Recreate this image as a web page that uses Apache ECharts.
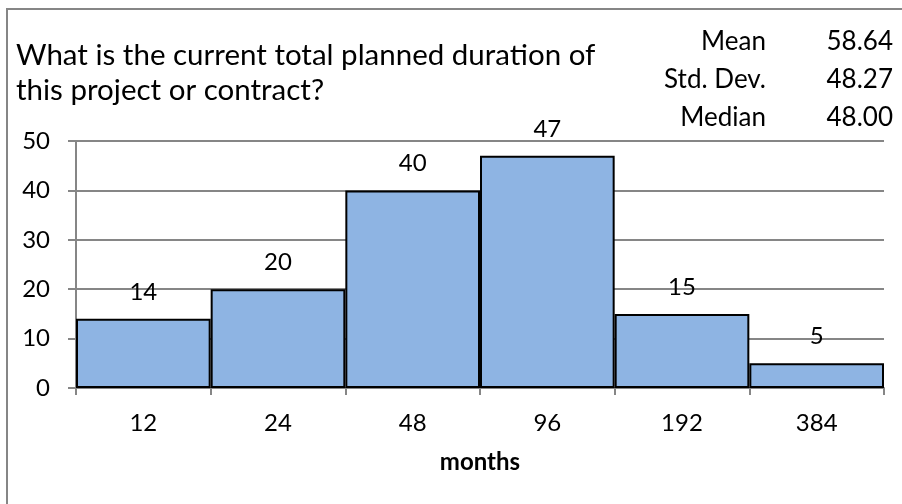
<!DOCTYPE html>
<html>
<head>
<meta charset="utf-8">
<script src="https://cdn.jsdelivr.net/npm/echarts@6/dist/echarts.min.js"></script>
<style>
  * { padding: 0; margin: 0; }
  html, body { background: #fff; }
  #chart { width: 902px; height: 504px; }
</style>
</head>
<body>
<div id="chart"></div>
<script>
const bins = ['12', '24', '48', '96', '192', '384']
const counts = [14, 20, 40, 47, 15, 5]
const statNames = ['Mean', 'Std. Dev.', 'Median']
const statValues = ['58.64', '48.27', '48.00']

const font = 'Lato, "Open Sans", sans-serif'
const gray = '#868686'

const chart = echarts.init(document.getElementById('chart'))
chart.setOption({
  animation: false,
  backgroundColor: '#fff',
  textStyle: { fontFamily: font },
  title: {
    text: 'What is the current total planned duration of\nthis project or contract?',
    left: 11,
    top: 33,
    textStyle: {
      fontFamily: font,
      fontSize: 29.5,
      fontWeight: 'normal',
      color: '#000',
      lineHeight: 35
    }
  },
  graphic: [
    {
      // chart frame
      type: 'rect',
      shape: { x: 7, y: 9, width: 1000, height: 1000 },
      style: { fill: 'none', stroke: gray, lineWidth: 2 },
      silent: true
    },
    {
      type: 'text',
      x: 766,
      y: 23,
      style: {
        text: statNames.join('\n'),
        align: 'right',
        font: '26px ' + font,
        lineHeight: 38,
        fill: '#000'
      }
    },
    {
      type: 'text',
      x: 893,
      y: 23,
      style: {
        text: statValues.join('\n'),
        align: 'right',
        font: '26px ' + font,
        lineHeight: 38,
        fill: '#000'
      }
    }
  ],
  grid: {
    left: 76,
    right: 18,
    top: 141,
    bottom: 116
  },
  xAxis: {
    type: 'category',
    data: bins,
    name: 'months',
    nameLocation: 'middle',
    nameGap: 62,
    nameTextStyle: {
      fontFamily: font,
      fontSize: 24,
      fontWeight: 'bold',
      color: '#000'
    },
    axisLine: { lineStyle: { color: gray, width: 2 } },
    axisTick: { show: true, length: 7, lineStyle: { color: gray, width: 2 } },
    axisLabel: { fontFamily: font, fontSize: 24, color: '#000', margin: 23 }
  },
  yAxis: {
    type: 'value',
    min: 0,
    max: 50,
    interval: 10,
    axisLine: { show: true, lineStyle: { color: gray, width: 2 } },
    axisTick: { show: true, length: 8, lineStyle: { color: gray, width: 2 } },
    axisLabel: { fontFamily: font, fontSize: 24, color: '#000', margin: 26 },
    splitLine: { lineStyle: { color: gray, width: 2 } }
  },
  series: [
    {
      type: 'bar',
      data: counts,
      barCategoryGap: '0%',
      itemStyle: {
        color: '#8EB4E3',
        borderColor: '#000',
        borderWidth: 2
      },
      label: {
        show: true,
        position: 'top',
        distance: 15,
        fontFamily: font,
        fontSize: 24,
        color: '#000'
      }
    }
  ]
})
</script>
</body>
</html>
